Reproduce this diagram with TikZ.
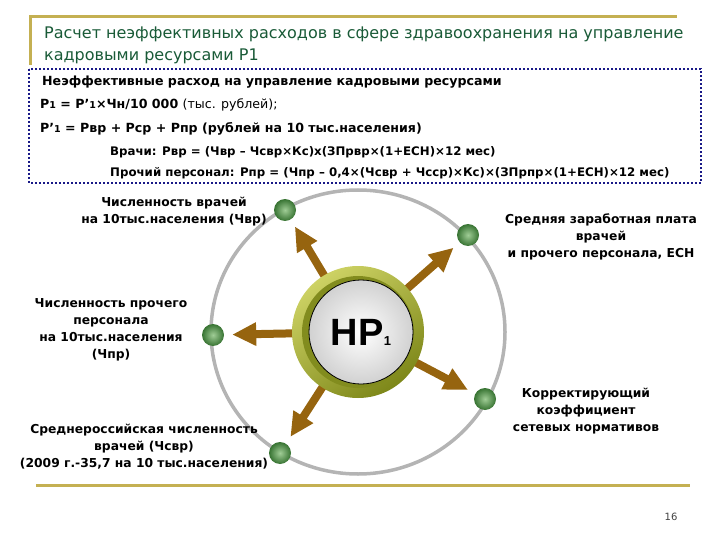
\documentclass[tikz,border=0pt]{standalone}
\usepackage{fontspec}
\setmainfont{DejaVu Sans}
\newfontfamily\hubfont{Liberation Sans}
\usetikzlibrary{arrows.meta,positioning}

\definecolor{titlegreen}{RGB}{25,90,55}
\definecolor{goldline}{RGB}{196,176,82}
\definecolor{navydot}{RGB}{25,25,135}
\definecolor{orbitgray}{RGB}{180,180,180}
\definecolor{spokebrown}{RGB}{150,100,15}
\definecolor{dotlight}{RGB}{160,205,150}
\definecolor{dotdark}{RGB}{55,115,50}
\definecolor{ringlight}{RGB}{205,210,100}
\definecolor{ringdark}{RGB}{125,135,25}
\definecolor{ringmid}{RGB}{130,140,30}

\newcommand{\lo}[1]{{\fontsize{9.5}{9.5}\selectfont #1}}

\tikzset{
  lbl/.style={align=center, inner sep=0pt, font=\fontsize{12.3}{17}\selectfont\bfseries},
  frml/.style={anchor=base west, inner sep=0pt, font=\fontsize{12.6}{14}\selectfont\bfseries},
  frmlsmall/.style={frml, font=\fontsize{11.8}{13}\selectfont\bfseries},
  ball/.style={circle, minimum size=22pt, inner sep=0pt, shading=radial,
    inner color=dotlight, outer color=dotdark},
  spoke/.style={draw=spokebrown, line width=8pt,
    -{Triangle[width=22pt,length=24pt]}, shorten >=8pt},
  orbit/.style={draw=orbitgray, line width=3.5pt},
}

\begin{document}
\begin{tikzpicture}[x=1pt,y=-1pt]
  \useasboundingbox (0,0) rectangle (720,540);

  % title frame
  \draw[goldline, line width=3pt] (30,65) -- (30,17) -- (677,17);
  \node[anchor=north west, inner sep=0pt, align=left, text=titlegreen,
    font=\fontsize{16}{22}\selectfont] (title) at (44,27)
    {Расчет неэффективных расходов в сфере здравоохранения на управление\\
     кадровыми ресурсами Р1};
  \draw[goldline, line width=3pt] (36,485) -- (690,485);

  % formula box
  \draw[navydot, line width=2pt, dash pattern=on 2pt off 2pt] (29,69) rectangle (701,183);
  \node[frml] (f1) at (42,86) {Неэффективные расход на управление кадровыми ресурсами};
  \node[frml] (f2) at (40,109) {Р\lo{1} = Р’\lo{1}×Чн/10 000 {\mdseries (тыс. рублей);}};
  \node[frml] (f3) at (40,133) {Р’\lo{1} = Рвр + Рср + Рпр (рублей на 10 тыс.населения)};
  \node[frmlsmall] (f4) at (110,156) {Врачи: Рвр = (Чвр – Чсвр×Кс)х(ЗПрвр×(1+ЕСН)×12 мес)};
  \node[frmlsmall] (f5) at (110,177) {Прочий персонал: Рпр = (Чпр – 0,4×(Чсвр + Чсср)×Кс)×(ЗПрпр×(1+ЕСН)×12 мес)};

  % orbit with the five factors
  \coordinate (ctr) at (358,332);
  \draw[orbit] (ctr) ellipse [x radius=147, y radius=142];

  \node[ball] (d1) at (285,210) {};
  \node[ball] (d2) at (468,235) {};
  \node[ball] (d3) at (213,335) {};
  \node[ball] (d4) at (485,399) {};
  \node[ball] (d5) at (280,453) {};

  \foreach \d in {d1,d2,d3,d4,d5}
    \draw[spoke] (ctr) -- (\d);

  % hub
  \node[circle, minimum size=132pt, inner sep=0pt, shading=axis,
    top color=ringlight, bottom color=ringdark, shading angle=35] (hub) at (ctr) {};
  \fill[ringmid] (hub.center) circle (56);
  \node[circle, minimum size=104pt, inner sep=0pt, draw=black, line width=0.8pt,
    shading=radial, inner color=white, outer color=black!18] (disk) at ([xshift=3pt]hub.center)
    {\hubfont\bfseries\fontsize{38}{38}\selectfont НР{\fontsize{13}{13}\selectfont 1}};

  % labels
  \node[lbl] (l1) at (174,212) {Численность врачей\\на 10тыс.населения (Чвр)};
  \node[lbl] (l2) at (601,237) {Средняя заработная плата\\врачей\\и прочего персонала, ЕСН};
  \node[lbl] (l3) at (111,330) {Численность прочего\\персонала\\на 10тыс.населения\\(Чпр)};
  \node[lbl] (l4) at (586,411) {Корректирующий\\коэффициент\\сетевых нормативов};
  \node[lbl] (l5) at (144,447) {Среднероссийская численность\\врачей (Чсвр)\\(2009 г.-35,7 на 10 тыс.населения)};

  \node[text=black!75, font=\fontsize{10}{10}\selectfont] (page) at (671,517) {16};
\end{tikzpicture}
\end{document}
